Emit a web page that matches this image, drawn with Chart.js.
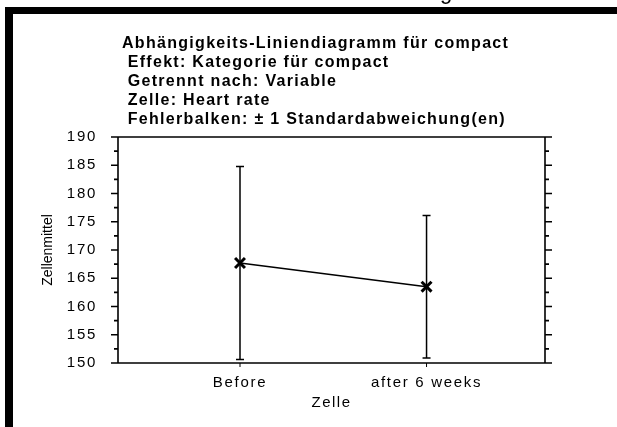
<!DOCTYPE html>
<html><head><meta charset="utf-8">
<script src="https://cdn.jsdelivr.net/npm/chart.js@4"></script>
<style>html,body{margin:0;padding:0;background:#fff;overflow:hidden}canvas{display:block}</style>
</head><body>
<canvas id="c" width="617" height="427"></canvas>
<script>
// ---- data ----
const categories = ['Before', 'after 6 weeks'];
const means = [167.7, 163.5];
const stdDevs = [17.1, 12.6];
const yTickValues = [150, 155, 160, 165, 170, 175, 180, 185, 190];
const yMinorValues = [152.5, 157.5, 162.5, 167.5, 172.5, 177.5, 182.5, 187.5];
const titleLines = [
  'Abhängigkeits-Liniendiagramm für compact',
  ' Effekt: Kategorie für compact',
  ' Getrennt nach: Variable',
  ' Zelle: Heart rate',
  ' Fehlerbalken: ± 1 Standardabweichung(en)'
];
const yTitle = 'Zellenmittel';
const xTitle = 'Zelle';
const partialTopText = 'g';

const FONT = "'Liberation Sans', Arial, sans-serif";
Chart.defaults.font.family = FONT;
Chart.defaults.color = '#000';

// letter-spacing wrappers for scale text
function spaced(scale, method, spacing) {
  const key = '_sp_' + method;
  if (scale[key]) return;
  const orig = scale[method];
  scale[method] = function (...args) {
    const c = this.ctx;
    c.save();
    c.letterSpacing = spacing;
    orig.apply(this, args);
    c.restore();
  };
  scale[key] = true;
}

const deco = {
  id: 'deco',
  beforeDraw(chart) {
    const ctx = chart.ctx;
    ctx.save();
    ctx.fillStyle = '#000';
    ctx.fillRect(5, 7, 612, 7);
    ctx.fillRect(5, 7, 8, 420);
    ctx.font = '22px ' + FONT;
    ctx.textBaseline = 'alphabetic';
    ctx.textAlign = 'left';
    ctx.fillText(partialTopText, 440, -1);
    ctx.restore();
  },
  beforeDatasetsDraw(chart) {
    const ctx = chart.ctx;
    const {left, right, top, bottom} = chart.chartArea;
    const ys = chart.scales.y, xs = chart.scales.x;
    ctx.save();
    ctx.strokeStyle = '#000';
    ctx.lineWidth = 1.6;
    ctx.beginPath();
    ctx.moveTo(left, top); ctx.lineTo(left, bottom);
    ctx.moveTo(right, top); ctx.lineTo(right, bottom);
    ctx.moveTo(left, top); ctx.lineTo(right, top);
    ctx.moveTo(left, bottom); ctx.lineTo(right, bottom);
    yTickValues.forEach(v => {
      const p = ys.getPixelForValue(v);
      ctx.moveTo(left - 7, p); ctx.lineTo(left, p);
      ctx.moveTo(right, p); ctx.lineTo(right + 7, p);
    });
    yMinorValues.forEach(v => {
      const p = ys.getPixelForValue(v);
      ctx.moveTo(left - 4, p); ctx.lineTo(left, p);
      ctx.moveTo(right, p); ctx.lineTo(right + 4, p);
    });
    ctx.stroke();
    ctx.lineWidth = 1;
    ctx.beginPath();
    categories.forEach((c, i) => {
      const px = xs.getPixelForValue(i);
      ctx.moveTo(px, bottom); ctx.lineTo(px, bottom + 4);
    });
    ctx.stroke();
    // error bars
    ctx.lineWidth = 1.5;
    ctx.beginPath();
    means.forEach((m, i) => {
      const px = xs.getPixelForValue(i);
      const hi = ys.getPixelForValue(m + stdDevs[i]);
      const lo = ys.getPixelForValue(m - stdDevs[i]);
      ctx.moveTo(px, hi); ctx.lineTo(px, lo);
      ctx.moveTo(px - 4, hi); ctx.lineTo(px + 4, hi);
      ctx.moveTo(px - 4, lo); ctx.lineTo(px + 4, lo);
    });
    ctx.stroke();
    ctx.restore();
  },
  afterDraw(chart) {
    const ctx = chart.ctx;
    ctx.save();
    ctx.fillStyle = '#000';
    ctx.letterSpacing = '1.3px';
    ctx.font = 'bold 16px ' + FONT;
    ctx.textBaseline = 'middle';
    ctx.textAlign = 'left';
    titleLines.forEach((t, i) => {
      ctx.fillText(t, 122, 44 + i * 19);
    });
    ctx.restore();
  }
};

new Chart(document.getElementById('c'), {
  type: 'line',
  data: {
    datasets: [{
      data: means.map((m, i) => ({x: i, y: m})),
      borderColor: '#000',
      borderWidth: 1.5,
      pointStyle: 'crossRot',
      pointRadius: 7,
      pointBorderWidth: 3,
      pointBorderColor: '#000',
      pointBackgroundColor: '#000',
      fill: false,
      tension: 0
    }]
  },
  options: {
    responsive: false,
    animation: false,
    devicePixelRatio: 1,
    layout: {padding: {top: 137, right: 72, left: 0, bottom: 0}},
    plugins: {legend: {display: false}, tooltip: {enabled: false}},
    scales: {
      x: {
        type: 'linear', min: -0.654, max: 1.635,
        afterBuildTicks: s => { s.ticks = categories.map((_, i) => ({value: i})); },
        ticks: {callback: v => categories[v] ?? '', padding: 11, font: {size: 15}, color: '#000', autoSkip: false, maxRotation: 0},
        grid: {display: false, drawTicks: false},
        border: {display: false},
        title: {display: true, text: xTitle, font: {size: 15}, color: '#000', padding: {top: 0, bottom: 15}},
        afterFit: s => { s.height = 64; },
        afterUpdate: s => { spaced(s, 'drawLabels', '1.7px'); spaced(s, 'drawTitle', '1.5px'); }
      },
      y: {
        min: 150, max: 190,
        afterBuildTicks: s => { s.ticks = yTickValues.map(v => ({value: v})); },
        ticks: {padding: 21, font: {size: 15}, color: '#000'},
        grid: {display: false, drawTicks: false},
        border: {display: false},
        title: {display: true, text: yTitle, font: {size: 14}, color: '#000', padding: {top: 40, bottom: 0}},
        afterFit: s => { s.width = 118; },
        afterUpdate: s => { spaced(s, 'drawLabels', '1.7px'); }
      }
    }
  },
  plugins: [deco]
});
</script>
</body></html>
